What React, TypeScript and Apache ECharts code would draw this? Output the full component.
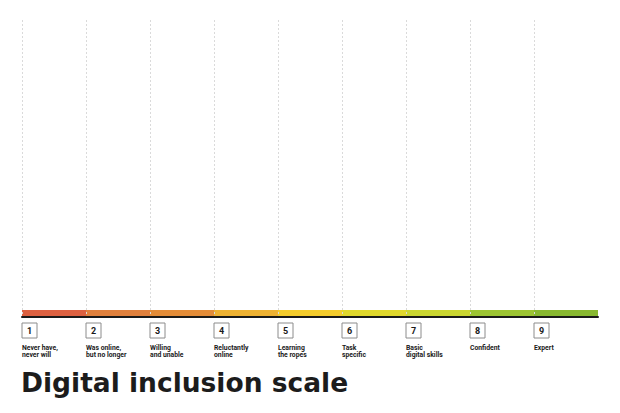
import { useEffect, useRef } from "react";
import * as echarts from "echarts";

const levels = [1, 2, 3, 4, 5, 6, 7, 8, 9];
const levelLabels = [
  "Never have,\nnever will",
  "Was online,\nbut no longer",
  "Willing\nand unable",
  "Reluctantly\nonline",
  "Learning\nthe ropes",
  "Task\nspecific",
  "Basic\ndigital skills",
  "Confident",
  "Expert",
];
const bandColors = [
  "#dc6040",
  "#e0803c",
  "#e38c38",
  "#eeb232",
  "#f4cc2c",
  "#e0d82c",
  "#cad630",
  "#9cc432",
  "#88b830",
];
const chartTitle = "Digital inclusion scale";

export default function App() {
  const chartRef = useRef<HTMLDivElement>(null);

  useEffect(() => {
    if (!chartRef.current) {
      return undefined;
    }

    const chart = echarts.init(chartRef.current, null, { renderer: "svg" });
    const font = "Roboto, 'DejaVu Sans', sans-serif";

    chart.setOption({
      animation: false,
      title: {
        text: chartTitle,
        left: 21,
        top: 369,
        padding: 0,
        textStyle: {
          fontFamily: "'DejaVu Sans', sans-serif",
          fontSize: 26.5,
          fontWeight: "bold",
          color: "#1c1c1c",
        },
      },
      grid: { top: 20, right: 22, bottom: 96, left: 22 },
      xAxis: [
        {
          type: "value",
          min: 0,
          max: levels.length,
          interval: 1,
          z: 5,
          axisLine: { show: true, lineStyle: { color: "#1a1a1a", width: 2 } },
          axisTick: { show: false },
          splitLine: {
            show: true,
            showMaxLine: false,
            lineStyle: { color: "#dadada", type: [2, 2], width: 1 },
          },
          axisLabel: {
            margin: 6,
            align: "left",
            showMaxLabel: false,
            formatter: (value: number) => (value < levels.length ? `{box|${levels[value]}}` : ""),
            rich: {
              box: {
                width: 15,
                height: 15,
                align: "center",
                borderColor: "#8c8c8c",
                borderWidth: 1,
                fontFamily: font,
                fontSize: 9,
                fontWeight: "bold",
                color: "#1a1a1a",
              },
            },
          },
        },
        {
          type: "value",
          min: 0,
          max: levels.length,
          interval: 1,
          position: "bottom",
          axisLine: { show: false },
          axisTick: { show: false },
          splitLine: { show: false },
          axisLabel: {
            margin: 27,
            align: "left",
            showMaxLabel: false,
            fontFamily: font,
            fontSize: 6.8,
            fontWeight: "bold",
            lineHeight: 7,
            color: "#1a1a1a",
            formatter: (value: number) => (value < levels.length ? levelLabels[value] : ""),
          },
        },
      ],
      yAxis: { type: "value", min: 0, max: 1, show: false },
      series: [
        {
          type: "custom",
          xAxisIndex: 0,
          z: 2,
          data: levels.map((level, index) => [index, level]),
          renderItem: (params: any, api: any) => {
            const start = api.coord([api.value(0), 0]);
            const end = api.coord([api.value(0) + 1, 0]);
            return {
              type: "rect",
              shape: { x: start[0], y: start[1] - 7, width: end[0] - start[0], height: 6 },
              style: { fill: bandColors[params.dataIndex] },
            };
          },
        },
      ],
    });

    return () => {
      chart.dispose();
    };
  }, []);

  return (
    <div
      ref={chartRef}
      style={{ position: "fixed", left: 0, top: 0, width: 620, height: 413, background: "#fff" }}
    />
  );
}
